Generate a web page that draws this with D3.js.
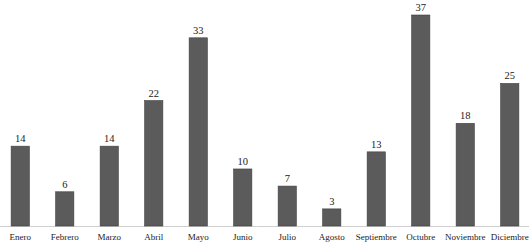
<!DOCTYPE html>
<html><head><meta charset="utf-8">
<script src="https://cdn.jsdelivr.net/npm/d3@7"></script>
<style>body{margin:0;background:#fff}svg{display:block}text{font-family:"Liberation Serif","Times New Roman",Times,serif}</style>
</head><body><svg id="c" width="529" height="246"></svg>
<script>
const months = ["Enero","Febrero","Marzo","Abril","Mayo","Junio","Julio","Agosto","Septiembre","Octubre","Noviembre","Diciembre"];
const values = [14,6,14,22,33,10,7,3,13,37,18,25];

const svg = d3.select("#c");
const W = 529, H = 246;
const baseY = 226;
const FONT = '"Liberation Serif","Times New Roman",Times,serif';
const x = d3.scaleBand().domain(months).range([-2, 532]).paddingInner(0.59).paddingOuter(0.295);
const y = d3.scaleLinear().domain([0, 37]).range([baseY, 15]);

svg.append("line").attr("x1", 0).attr("x2", W).attr("y1", baseY + 0.5).attr("y2", baseY + 0.5)
  .attr("stroke", "#d0d0d0").attr("stroke-width", 1);

svg.selectAll("rect.bar").data(values).join("rect").attr("class","bar")
  .attr("x", (d,i) => x(months[i]))
  .attr("width", x.bandwidth())
  .attr("y", d => y(d))
  .attr("height", d => baseY - y(d))
  .attr("fill", "#5b5b5b").attr("stroke", "#3f3f3f").attr("stroke-width", 0.6);

svg.selectAll("text.val").data(values).join("text").attr("class","val")
  .attr("x", (d,i) => x(months[i]) + x.bandwidth()/2)
  .attr("y", d => y(d) - 4)
  .attr("text-anchor","middle")
  .style("font-family", FONT)
  .attr("font-size", 10.5).attr("fill","#222")
  .text(d => d);

const xAxis = d3.axisBottom(x).tickSize(0).tickPadding(0);
const g = svg.append("g").attr("transform", `translate(0,${baseY})`).call(xAxis);
g.attr("font-family", null);
g.select(".domain").remove();
g.selectAll("text").attr("dy", null).attr("y", 14)
  .style("font-family", FONT)
  .attr("font-size", 9).attr("fill","#222");
</script></body></html>
